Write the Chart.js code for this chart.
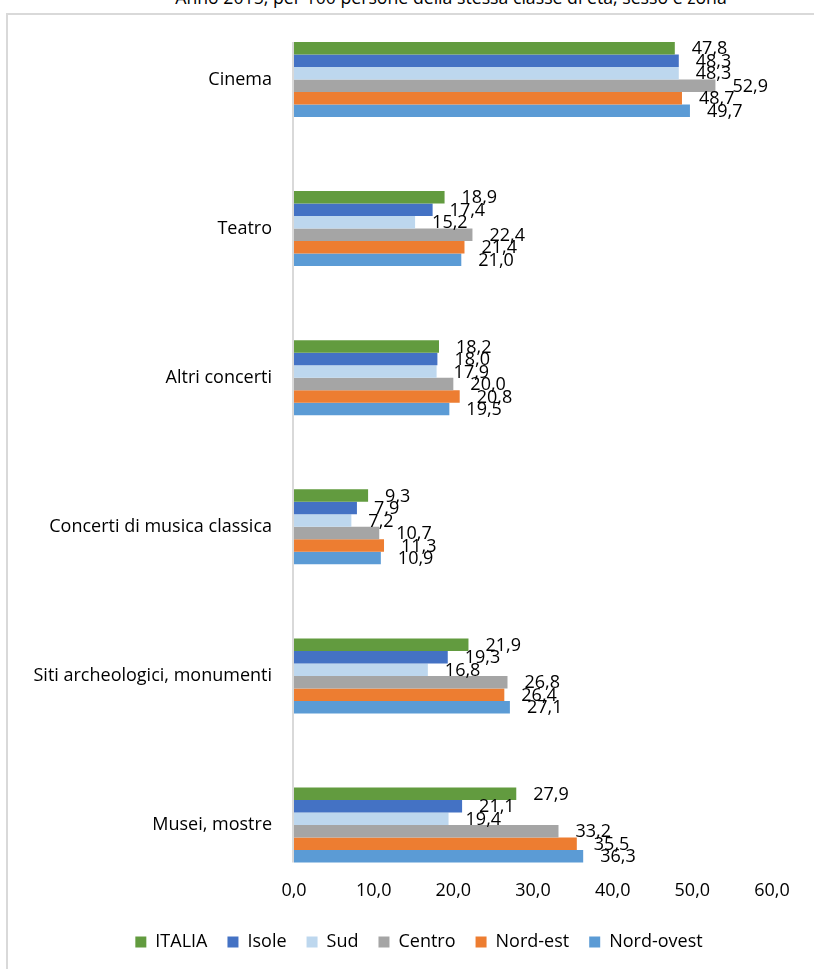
<!DOCTYPE html>
<html lang="it">
<head>
<meta charset="utf-8">
<script src="https://cdn.jsdelivr.net/npm/chart.js@4/dist/chart.umd.min.js"></script>
<style>
  html, body { margin: 0; padding: 0; background: #fff; }
  #wrap { position: relative; width: 814px; height: 969px; overflow: hidden; }
  #frame { position: absolute; left: 6px; top: 13px; width: 900px; height: 1000px;
           border-left: 2px solid #d9d9d9; border-top: 2px solid #d9d9d9; }
  #title { position: absolute; left: 0; width: 902px; top: -15px; text-align: center;
           font: 17.7px "Open Sans", sans-serif; color: #000; white-space: nowrap; }
  canvas { position: absolute; left: 0; top: 0; }
</style>
</head>
<body>
<div id="wrap">
  <div id="title">Anno 2015, per 100 persone della stessa classe di età, sesso e zona</div>
  <div id="frame"></div>
  <canvas id="chart" width="814" height="969"></canvas>
</div>
<script>
const categories = ['Cinema', 'Teatro', 'Altri concerti', 'Concerti di musica classica',
  'Siti archeologici, monumenti', 'Musei, mostre'];

const italia    = [47.8, 18.9, 18.2, 9.3, 21.9, 27.9];
const isole     = [48.3, 17.4, 18.0, 7.9, 19.3, 21.1];
const sud       = [48.3, 15.2, 17.9, 7.2, 16.8, 19.4];
const centro    = [52.9, 22.4, 20.0, 10.7, 26.8, 33.2];
const nordEst   = [48.7, 21.4, 20.8, 11.3, 26.4, 35.5];
const nordOvest = [49.7, 21.0, 19.5, 10.9, 27.1, 36.3];

const seriesNames = ['ITALIA', 'Isole', 'Sud', 'Centro', 'Nord-est', 'Nord-ovest'];
const seriesData = [italia, isole, sud, centro, nordEst, nordOvest];
const seriesColors = ['#629b3f', '#4472c4', '#bdd7ee', '#a5a5a5', '#ed7d31', '#5b9bd5'];

const FONT = '"Open Sans", sans-serif';
const fmt = v => v.toFixed(1).replace('.', ',');

// value labels just past the end of each bar
const barLabels = {
  id: 'barLabels',
  afterDatasetsDraw(chart) {
    const ctx = chart.ctx;
    ctx.save();
    ctx.font = '18px ' + FONT;
    ctx.fillStyle = '#000';
    ctx.textAlign = 'left';
    ctx.textBaseline = 'middle';
    chart.data.datasets.forEach((ds, i) => {
      chart.getDatasetMeta(i).data.forEach((bar, j) => {
        ctx.fillText(fmt(ds.data[j]), bar.x + 17, bar.y + 1);
      });
    });
    ctx.restore();
  }
};

// vertical axis line spanning the groups of bars
const axisLine = {
  id: 'axisLine',
  beforeDatasetsDraw(chart) {
    const first = chart.getDatasetMeta(0).data[0];
    const lastMeta = chart.getDatasetMeta(seriesData.length - 1);
    const last = lastMeta.data[categories.length - 1];
    const x = chart.scales.x.getPixelForValue(0);
    const ctx = chart.ctx;
    ctx.save();
    ctx.strokeStyle = '#d9d9d9';
    ctx.lineWidth = 2;
    ctx.beginPath();
    ctx.moveTo(x - 1, first.y - first.height / 2);
    ctx.lineTo(x - 1, last.y + last.height / 2);
    ctx.stroke();
    ctx.restore();
  }
};

// center the legend under the whole frame rather than the padded canvas
const legendShift = {
  id: 'legendShift',
  afterLayout(chart) {
    chart.legend.left += 33;
    chart.legend.right += 33;
  }
};

new Chart(document.getElementById('chart').getContext('2d'), {
  type: 'bar',
  data: {
    labels: categories,
    datasets: seriesNames.map((name, i) => ({
      label: name,
      data: seriesData[i],
      backgroundColor: seriesColors[i],
      borderWidth: 0,
      categoryPercentage: 0.503,
      barPercentage: 1.0,
      clip: false
    }))
  },
  options: {
    indexAxis: 'y',
    responsive: false,
    animation: false,
    layout: { padding: { left: 0, right: 42, top: 79.5, bottom: 8 } },
    scales: {
      x: {
        min: 0,
        max: 60,
        ticks: {
          stepSize: 10,
          padding: 55,
          color: '#000',
          font: { family: FONT, size: 18 },
          callback: v => fmt(v)
        },
        grid: { display: false, drawTicks: false },
        border: { display: false },
        afterFit(scale) {
          scale.height = 88;
          scale.paddingLeft = 0;
          scale.paddingRight = 0;
        }
      },
      y: {
        offset: false,
        ticks: {
          padding: 22,
          color: '#000',
          font: { family: FONT, size: 18 }
        },
        grid: { display: false, drawTicks: false },
        border: { display: false },
        afterFit(scale) { scale.width = 294; }
      }
    },
    plugins: {
      legend: {
        position: 'bottom',
        labels: {
          boxWidth: 11,
          boxHeight: 11,
          padding: 20,
          color: '#000',
          font: { family: FONT, size: 18 }
        }
      },
      tooltip: { enabled: false }
    }
  },
  plugins: [barLabels, axisLine, legendShift]
});
</script>
</body>
</html>
